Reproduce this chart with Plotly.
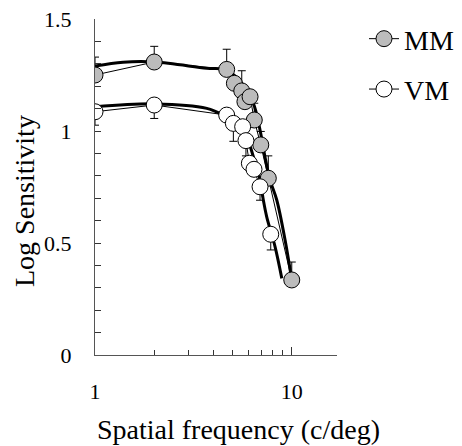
import plotly.graph_objects as go

# ---- data ----
mm_x = [1.0, 2.0, 4.67, 5.11, 5.57, 5.78, 6.14, 6.45, 6.96, 7.6, 10.0]
mm_y = [1.25, 1.308, 1.275, 1.213, 1.179, 1.131, 1.153, 1.049, 0.938, 0.789, 0.335]
mm_err_up = [0.08, 0.07, 0.09, 0.0, 0.09, 0.0, 0.0, 0.075, 0.06, 0.10, 0.08]

vm_x = [1.0, 2.0, 4.67, 5.05, 5.63, 5.85, 6.09, 6.43, 6.9, 7.82]
vm_y = [1.086, 1.116, 1.071, 1.034, 1.019, 0.957, 0.856, 0.829, 0.751, 0.539]
vm_err_down = [0.06, 0.06, 0.0, 0.08, 0.0, 0.068, 0.0, 0.0, 0.06, 0.07]

# fitted curves
mm_fit_x = [1.0, 1.39, 2.02, 3.70, 4.67, 5.57, 6.38, 6.90, 7.31, 7.76, 8.39, 9.25, 10.0]
mm_fit_y = [1.29, 1.307, 1.308, 1.28, 1.272, 1.213, 1.124, 1.004, 0.885, 0.781, 0.692, 0.513, 0.335]
vm_fit_x = [1.0, 2.02, 3.70, 4.47, 5.46, 5.90, 6.38, 6.90, 7.17, 7.46, 8.23, 8.90]
vm_fit_y = [1.108, 1.121, 1.101, 1.071, 1.019, 0.975, 0.885, 0.781, 0.692, 0.617, 0.483, 0.342]

x_tickvals = [1, 10]
x_ticktext = ["1", "10"]
x_minor = [2, 3, 4, 5, 6, 7, 8, 9]
y_tickvals = [0, 0.5, 1, 1.5]
y_ticktext = ["0", "0.5", "1", "1.5"]

x_title = "Spatial frequency (c/deg)"
y_title = "Log Sensitivity"

FONT = "'Liberation Serif', 'Times New Roman', Times, serif"

fig = go.Figure()

fig.add_trace(go.Scatter(x=mm_fit_x, y=mm_fit_y, mode="lines",
                         line=dict(color="black", width=3, shape="spline", smoothing=1.0),
                         showlegend=False, hoverinfo="skip"))
fig.add_trace(go.Scatter(x=vm_fit_x, y=vm_fit_y, mode="lines",
                         line=dict(color="black", width=3, shape="spline", smoothing=1.0),
                         showlegend=False, hoverinfo="skip"))

fig.add_trace(go.Scatter(
    x=mm_x, y=mm_y, mode="lines+markers", name="MM", legendgroup="mm",
    line=dict(color="black", width=1),
    marker=dict(symbol="circle", size=16, color="#bcbcbc", line=dict(color="black", width=1)),
    error_y=dict(type="data", symmetric=False, array=mm_err_up,
                 arrayminus=[0] * len(mm_x), color="black", thickness=1, width=4),
))
fig.add_trace(go.Scatter(
    x=vm_x, y=vm_y, mode="lines+markers", name="VM", legendgroup="vm",
    line=dict(color="black", width=1),
    marker=dict(symbol="circle", size=16, color="white", line=dict(color="black", width=1)),
    error_y=dict(type="data", symmetric=False, array=[0] * len(vm_x),
                 arrayminus=vm_err_down, color="black", thickness=1, width=4),
))

fig.update_layout(
    width=462, height=446,
    margin=dict(l=95, r=125, t=19, b=91, autoexpand=False),
    plot_bgcolor="white", paper_bgcolor="white",
    font=dict(family=FONT, color="black", size=22),
    legend=dict(x=(364 - 95) / 242, y=1.015, xanchor="left", yanchor="top",
                font=dict(family=FONT, size=28), tracegroupgap=11,
                traceorder="grouped", bgcolor="rgba(0,0,0,0)", itemwidth=30),
    xaxis=dict(
        type="log", range=[0, 1.23],
        tickmode="array", tickvals=x_tickvals, ticktext=x_ticktext,
        ticks="inside", ticklen=8, tickcolor="#333", tickwidth=1,
        minor=dict(tickvals=x_minor, ticks="inside", ticklen=5, tickcolor="#333"),
        showline=True, linecolor="#555", linewidth=1, showgrid=False, zeroline=False,
        ticklabelstandoff=17,
        tickfont=dict(family=FONT, size=22),
    ),
    yaxis=dict(
        range=[0, 1.5],
        tickmode="array", tickvals=y_tickvals, ticktext=y_ticktext,
        ticks="inside", ticklen=6, tickcolor="#333", tickwidth=1,
        minor=dict(dtick=0.1, ticks="inside", ticklen=6, tickcolor="#333"),
        showline=True, linecolor="#555", linewidth=1, showgrid=False, zeroline=False,
        ticklabelstandoff=18,
        tickfont=dict(family=FONT, size=22),
    ),
    annotations=[
        dict(text=x_title, xref="paper", yref="paper", x=(238 - 95) / 242, y=-(429 - 355) / 336,
             xanchor="center", yanchor="middle", showarrow=False,
             font=dict(family=FONT, size=28, color="black")),
        dict(text=y_title, xref="paper", yref="paper", x=-(95 - 24) / 242, y=(355 - 201) / 336,
             xanchor="center", yanchor="middle", showarrow=False, textangle=-90,
             font=dict(family=FONT, size=28, color="black")),
    ],
)

fig.write_html("out.html")
